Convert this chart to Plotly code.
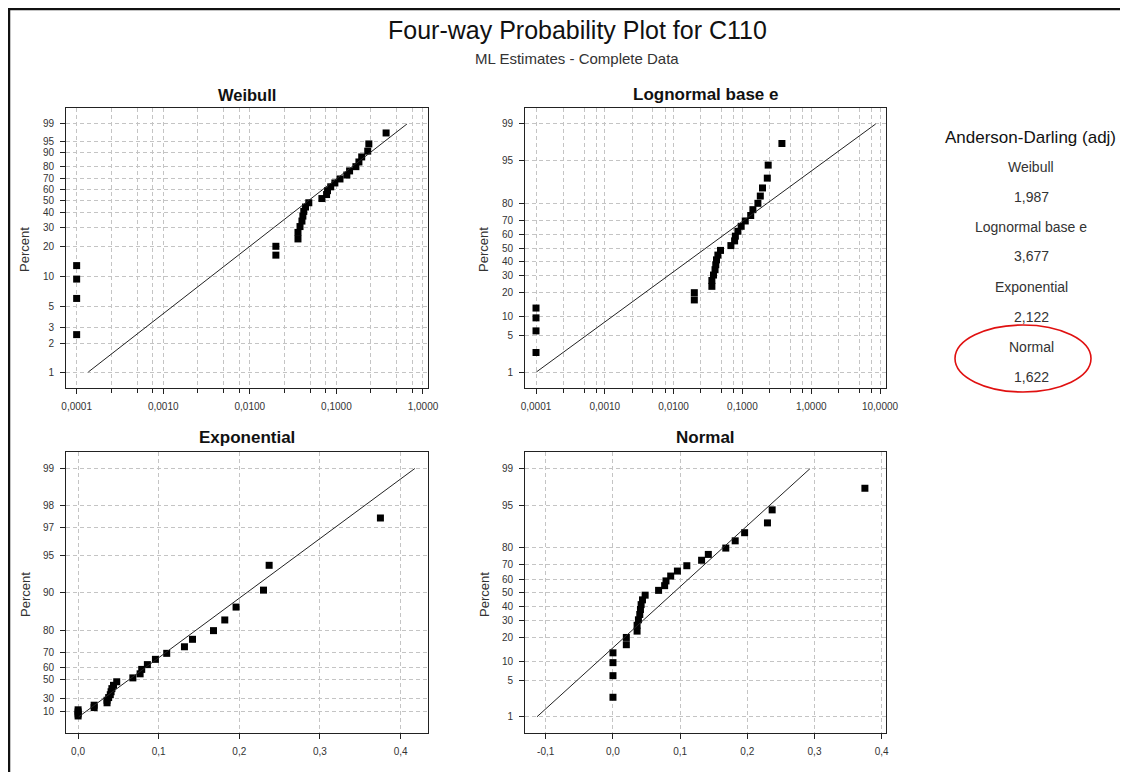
import math
from statistics import NormalDist
import plotly.graph_objects as go

# ---------------- data ----------------
c110_values = [0.0001, 0.0001, 0.0001, 0.0001, 0.020, 0.020, 0.036, 0.036,
               0.038, 0.040, 0.041, 0.042, 0.044, 0.048, 0.068, 0.077,
               0.079, 0.086, 0.096, 0.110, 0.132, 0.142, 0.168, 0.182,
               0.196, 0.230, 0.237, 0.375]
percent = [2.5, 6.0, 9.5, 13.0, 16.5, 20.1, 23.6, 27.1, 30.6, 34.2, 37.7,
           41.2, 44.7, 48.2, 51.8, 55.3, 58.8, 62.3, 65.8, 69.4, 72.9, 76.4,
           79.9, 83.5, 87.0, 90.5, 94.0, 97.5]

# fitted (ML) parameters
weibull_shape, weibull_scale = 0.723, 0.079
lognormal_loc, lognormal_scale = -3.521, 2.441
exponential_mean = 0.0907
normal_mean, normal_sd = 0.0901, 0.0873
fit_percent_span = [1, 99]

ad_labels = ["Weibull", "Lognormal base e", "Exponential", "Normal"]
ad_values = ["1,987", "3,677", "2,122", "1,622"]

# tick labels
weibull_yticks = [1, 2, 3, 5, 10, 20, 30, 40, 50, 60, 70, 80, 90, 95, 99]
normal_yticks = [1, 5, 10, 20, 30, 40, 50, 60, 70, 80, 95, 99]
expo_yticks = [10, 30, 50, 60, 70, 80, 90, 95, 97, 98, 99]
log_xticks_w = [0.0001, 0.001, 0.01, 0.1, 1]
log_xtext_w = ["0,0001", "0,0010", "0,0100", "0,1000", "1,0000"]
log_xticks_l = [0.0001, 0.001, 0.01, 0.1, 1, 10]
log_xtext_l = ["0,0001", "0,0010", "0,0100", "0,1000", "1,0000", "10,0000"]
lin_xticks_e = [0.0, 0.1, 0.2, 0.3, 0.4]
lin_xtext_e = ["0,0", "0,1", "0,2", "0,3", "0,4"]
lin_xticks_n = [-0.1, 0.0, 0.1, 0.2, 0.3, 0.4]
lin_xtext_n = ["-0,1", "0,0", "0,1", "0,2", "0,3", "0,4"]
minor_mult = [2.5, 5, 7.5]

# ---------------- probability scales ----------------
ND = NormalDist()
def t_weib(p): return math.log(-math.log(1 - p / 100.0))
def t_norm(p): return ND.inv_cdf(p / 100.0)
def t_expo(p): return -math.log(1 - p / 100.0)

# the page body has an 8px margin; lay out in page pixels
OFF = 8
W, H = 1128 - OFF, 772 - OFF
def px(x): return (x - OFF) / W
def py(y): return 1 - (y - OFF) / H

fig = go.Figure()
DOT = dict(symbol="square", size=7, color="black")
LINE = dict(color="#222222", width=1)

# Weibull
fig.add_trace(go.Scatter(x=c110_values, y=[t_weib(p) for p in percent], mode="markers",
                         marker=DOT, xaxis="x", yaxis="y", showlegend=False))
fig.add_trace(go.Scatter(
    x=[weibull_scale * (-math.log(1 - p / 100)) ** (1 / weibull_shape) for p in fit_percent_span],
    y=[t_weib(p) for p in fit_percent_span], mode="lines", line=LINE,
    xaxis="x", yaxis="y", showlegend=False))
# Lognormal
fig.add_trace(go.Scatter(x=c110_values, y=[t_norm(p) for p in percent], mode="markers",
                         marker=DOT, xaxis="x2", yaxis="y2", showlegend=False))
fig.add_trace(go.Scatter(
    x=[math.exp(lognormal_loc + lognormal_scale * t_norm(p)) for p in fit_percent_span],
    y=[t_norm(p) for p in fit_percent_span], mode="lines", line=LINE,
    xaxis="x2", yaxis="y2", showlegend=False))
# Exponential
fig.add_trace(go.Scatter(x=c110_values, y=[t_expo(p) for p in percent], mode="markers",
                         marker=DOT, xaxis="x3", yaxis="y3", showlegend=False))
fig.add_trace(go.Scatter(
    x=[exponential_mean * t_expo(p) for p in fit_percent_span],
    y=[t_expo(p) for p in fit_percent_span], mode="lines", line=LINE,
    xaxis="x3", yaxis="y3", showlegend=False))
# Normal
fig.add_trace(go.Scatter(x=c110_values, y=[t_norm(p) for p in percent], mode="markers",
                         marker=DOT, xaxis="x4", yaxis="y4", showlegend=False))
fig.add_trace(go.Scatter(
    x=[normal_mean + normal_sd * t_norm(p) for p in fit_percent_span],
    y=[t_norm(p) for p in fit_percent_span], mode="lines", line=LINE,
    xaxis="x4", yaxis="y4", showlegend=False))

FAM = "Liberation Sans, Arial, sans-serif"
TF = dict(family=FAM, size=10, color="#333333")
GRID = dict(showgrid=True, gridcolor="#c4c4c4", griddash="4px,3px", gridwidth=1)
BASE = dict(showline=True, linecolor="#222222", linewidth=1, mirror=True,
            ticks="outside", ticklen=5, tickcolor="#222222", zeroline=False,
            tickfont=TF, ticklabelstandoff=4, fixedrange=True, **GRID)

def log_minor(lo, hi):
    vals = []
    for k in range(lo, hi):
        for m in minor_mult:
            vals.append(m * 10 ** k)
    return dict(tickvals=vals, ticks="outside", ticklen=4, tickcolor="#222222",
                showgrid=True, gridcolor="#c4c4c4", griddash="4px,3px", gridwidth=1)

dx_left = [px(66), px(428)]
dx_right = [px(525), px(886)]
dy_top = [py(388), py(108)]
dy_bot = [py(733), py(452)]

fig.update_layout(
    width=W, height=H, margin=dict(l=0, r=0, t=0, b=0, autoexpand=False),
    paper_bgcolor="white", plot_bgcolor="white",
    font=dict(family=FAM, color="#222222"),
    xaxis=dict(BASE, type="log", domain=dx_left, anchor="y", range=[-4.123, 0.058],
               tickvals=log_xticks_w, ticktext=log_xtext_w, minor=log_minor(-4, 0)),
    yaxis=dict(BASE, domain=dy_top, anchor="x", range=[-4.995, 1.922],
               tickvals=[t_weib(p) for p in weibull_yticks],
               ticktext=[str(p) for p in weibull_yticks]),
    xaxis2=dict(BASE, type="log", domain=dx_right, anchor="y2", range=[-4.16, 1.087],
                tickvals=log_xticks_l, ticktext=log_xtext_l, minor=log_minor(-4, 1)),
    yaxis2=dict(BASE, domain=dy_top, anchor="x2", range=[-2.626, 2.626],
                tickvals=[t_norm(p) for p in normal_yticks],
                ticktext=[str(p) for p in normal_yticks]),
    xaxis3=dict(BASE, domain=dx_left, anchor="y3", range=[-0.0149, 0.434],
                tickvals=lin_xticks_e, ticktext=lin_xtext_e),
    yaxis3=dict(BASE, domain=dy_bot, anchor="x3", range=[-0.29, 4.91],
                tickvals=[t_expo(p) for p in expo_yticks],
                ticktext=[str(p) for p in expo_yticks]),
    xaxis4=dict(BASE, domain=dx_right, anchor="y4", range=[-0.1308, 0.4064],
                tickvals=lin_xticks_n, ticktext=lin_xtext_n),
    yaxis4=dict(BASE, domain=dy_bot, anchor="x4", range=[-2.63, 2.64],
                tickvals=[t_norm(p) for p in normal_yticks],
                ticktext=[str(p) for p in normal_yticks]),
)

ann = []
def text(x, y, s, size, bold=False, angle=0, color="#111111"):
    ann.append(dict(x=px(x), y=py(y), xref="paper", yref="paper", text=("<b>%s</b>" % s) if bold else s,
                    showarrow=False, xanchor="center", yanchor="middle", textangle=angle,
                    font=dict(size=size, color=color, family=FAM)))

text(577, 30, "Four-way Probability Plot for C110", 25)
text(577, 58, "ML Estimates - Complete Data", 15, color="#333333")
text(247, 95, "Weibull", 16.5, bold=True)
text(705.5, 95, "Lognormal base e", 17, bold=True)
text(247, 438, "Exponential", 17, bold=True)
text(705.5, 438, "Normal", 17, bold=True)
for xx, yy in [(25, 250), (484, 250), (25, 595), (484, 595)]:
    text(xx, yy, "Percent", 13, angle=-90, color="#333333")

text(1030, 137, "Anderson-Darling (adj)", 17)
ys = 167
for lab, val in zip(ad_labels, ad_values):
    text(1031, ys, lab, 14, color="#333333")
    text(1031, ys + 29.5, val, 14, color="#333333")
    ys += 60
fig.update_layout(annotations=ann)

fig.update_layout(shapes=[
    dict(type="circle", xref="paper", yref="paper", x0=px(955), x1=px(1091),
         y0=py(392), y1=py(325), line=dict(color="#e01010", width=1.6)),
    dict(type="line", xref="paper", yref="paper", x0=px(9), x1=px(9), y0=0, y1=py(8),
         line=dict(color="#111111", width=2.5)),
    dict(type="line", xref="paper", yref="paper", x0=px(8), x1=1, y0=py(9), y1=py(9),
         line=dict(color="#111111", width=2.5)),
])

fig.write_html("out.html")
